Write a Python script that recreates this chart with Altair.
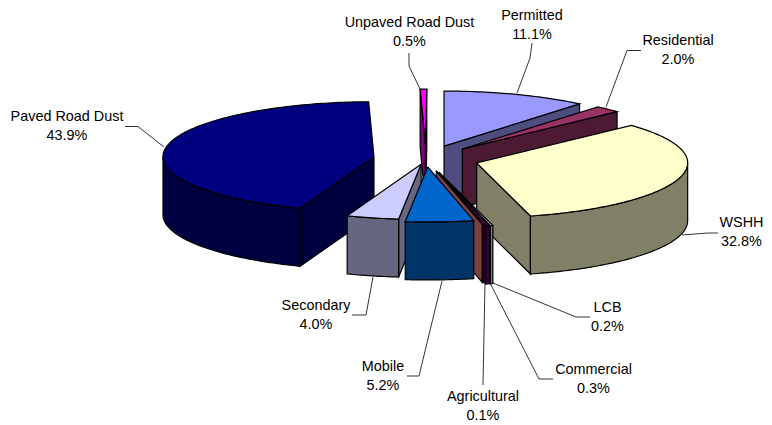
import math
import altair as alt
import pandas as pd

names = ["Permitted", "Residential", "WSHH", "LCB", "Commercial", "Agricultural",
         "Mobile", "Secondary", "Paved Road Dust", "Unpaved Road Dust"]
percents = [11.1, 2.0, 32.8, 0.2, 0.3, 0.1, 5.2, 4.0, 43.9, 0.5]
explode = [0.25, 0.25, 0.25, 0.25, 0.25, 0.22, 0.145, 0.10, 0.25, 0.27]
tops = ["#9999FF", "#993366", "#FFFFCC", "#CCFFFF", "#660066", "#FF8080",
        "#0066CC", "#CCCCFF", "#000080", "#FF00FF"]
walls = ["#4D4D80", "#4D1A33", "#808066", "#668080", "#330033", "#804040",
         "#003366", "#666680", "#000040", "#800080"]
draw_order = ["Unpaved Road Dust", "Permitted", "Residential", "Paved Road Dust", "WSHH",
              "LCB", "Commercial", "Agricultural", "Secondary", "Mobile"]
label_x = [532, 678, 741.5, 607.5, 593.5, 483, 383, 316, 67, 409.5]
label_y = [15.5, 41, 223, 308, 370, 397, 367, 306, 117, 23]
leaders = {
    "Permitted": [(532, 43), (530, 58), (517, 93)],
    "Residential": [(641, 50.5), (627, 50.5), (606, 107)],
    "WSHH": [(682, 235), (708, 233), (718, 233)],
    "LCB": [(493, 283), (576, 317), (590, 317)],
    "Commercial": [(490, 283), (539, 379), (553, 379)],
    "Agricultural": [(485, 283), (483, 385)],
    "Mobile": [(442, 281), (419, 376), (407, 376)],
    "Secondary": [(373, 277), (366, 315), (352, 315)],
    "Paved Road Dust": [(125, 126.5), (138, 126.5), (164, 147)],
    "Unpaved Road Dust": [(409, 53), (409, 66), (420, 89)],
}

CX, CY, A, B, DEPTH = 426, 159, 211, 55, 58

def rim(c, t):
    r = math.radians(t)
    return (c[0] + A * math.sin(r), c[1] - B * math.cos(r))

X = alt.X("x:Q", axis=None, scale=alt.Scale(domain=[8, 764]))
Y = alt.Y("y:Q", axis=None, scale=alt.Scale(domain=[8, 424], reverse=True))

def poly(points, fill):
    closed = points + [points[0]]
    df = pd.DataFrame({"x": [p[0] for p in closed], "y": [p[1] for p in closed],
                       "i": range(len(closed))})
    return alt.Chart(df).mark_line(fill=fill, stroke="#000000", strokeWidth=1.2,
                                   strokeJoin="miter", clip=False).encode(x=X, y=Y, order="i:Q")

spans = {}
acc = 0.0
for n, p in zip(names, percents):
    spans[n] = (acc * 3.6, (acc + p) * 3.6)
    acc += p

layers = []
for n in draw_order:
    k = names.index(n)
    s, e = spans[n]
    mid = math.radians((s + e) / 2)
    c = (CX + explode[k] * A * math.sin(mid), CY - explode[k] * B * math.cos(mid))
    down = lambda p: (p[0], p[1] + DEPTH)
    if math.sin(math.radians(s)) < 0:
        layers.append(poly([c, rim(c, s), down(rim(c, s)), down(c)], walls[k]))
    if math.sin(math.radians(e)) > 0:
        layers.append(poly([c, rim(c, e), down(rim(c, e)), down(c)], walls[k]))
    a0, a1 = max(s, 90), min(e, 270)
    if a1 > a0:
        steps = max(2, int(a1 - a0))
        arc = [rim(c, a0 + (a1 - a0) * j / steps) for j in range(steps + 1)]
        layers.append(poly(arc + [down(p) for p in reversed(arc)], walls[k]))
    steps = max(2, int(e - s))
    layers.append(poly([c] + [rim(c, s + (e - s) * j / steps) for j in range(steps + 1)], tops[k]))

for n, pts in leaders.items():
    df = pd.DataFrame({"x": [p[0] for p in pts], "y": [p[1] for p in pts], "i": range(len(pts))})
    layers.append(alt.Chart(df).mark_line(stroke="#000000", strokeWidth=0.8).encode(x=X, y=Y, order="i:Q"))

labels = pd.DataFrame({
    "x": label_x, "y": label_y,
    "t": [f"{n}\n{p:.1f}%" for n, p in zip(names, percents)],
})
layers.append(alt.Chart(labels).mark_text(font="Liberation Sans", fontSize=14.4, lineBreak="\n",
                                          lineHeight=19, color="#000000", align="center",
                                          baseline="middle").encode(x=X, y=Y, text="t:N"))

chart = alt.layer(*layers).properties(
    width=756, height=416, padding=0, autosize=alt.AutoSizeParams(type="none")
).configure_view(stroke=None)
chart.save("out.html", embed_options={"renderer": "svg", "actions": False})
